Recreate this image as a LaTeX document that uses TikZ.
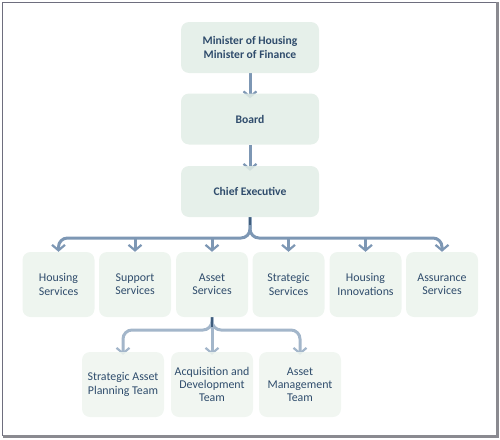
\documentclass[tikz,border=0pt]{standalone}
\usepackage{fontspec}
\setmainfont{Carlito}
\usetikzlibrary{arrows.meta,backgrounds}
\definecolor{txt}{HTML}{2F4C6C}
\definecolor{fillA}{HTML}{E2EDE6}
\definecolor{fillB}{HTML}{EEF5EF}
\definecolor{conn}{HTML}{7D97B4}
\definecolor{connL}{HTML}{A3B6CA}
\definecolor{trunk}{HTML}{3E5C7C}
\definecolor{frameC}{HTML}{6E6E7E}
\definecolor{frameD}{HTML}{8A8A90}
\tikzset{
  box/.style={rounded corners=8pt, inner sep=0pt, align=center, text=txt,
    font=\fontsize{11.9}{13.2}\selectfont},
  topbox/.style={box, fill=fillA, fill opacity=0.85, text opacity=1,
    minimum width=138pt, minimum height=51pt,
    font=\fontsize{11.6}{13.2}\selectfont\bfseries},
  midbox/.style={box, fill=fillB, minimum width=72pt, minimum height=65pt},
  lowbox/.style={box, fill=fillB, fill opacity=0.85, text opacity=1,
    minimum width=82pt, minimum height=65pt},
  chev/.style={-{Straight Barb[length=5.5pt,width=13pt,line width=2.2pt]}},
  conn/.style={draw=conn, line width=3pt, rounded corners=9pt},
  connl/.style={draw=connL, line width=3pt, rounded corners=9pt},
}
\begin{document}
\begin{tikzpicture}[x=1pt,y=-1pt]
\useasboundingbox (0,0) rectangle (500,439);
% frame
\draw[frameC, line width=1.2pt] (497,2.5) -- (2.5,2.5) -- (2.5,436);
\draw[frameD, line width=2.8pt] (2.5,436.6) -- (497.6,436.6) -- (497.6,2);
% nodes
\node[topbox] (min) at (250,47.5) {Minister of Housing\\Minister of Finance};
\node[topbox] (board) at (250,119) {Board};
\node[topbox] (ce) at (250,191.5) {Chief Executive};
\node[midbox] (hs) at (58.5,284.5) {Housing\\Services};
\node[midbox] (ss) at (135,284.5) {Support\\Services};
\node[midbox] (as) at (212,284.5) {Asset\\Services};
\node[midbox] (sts) at (288.5,284.5) {Strategic\\Services};
\node[midbox] (hi) at (365.5,284.5) {Housing\\Innovations};
\node[midbox] (asr) at (442,284.5) {Assurance\\Services};
\node[lowbox] (sap) at (123,384.5) {Strategic Asset\\Planning Team};
\node[lowbox] (acq) at (212,384.5) {Acquisition and\\Development\\Team};
\node[lowbox] (amt) at (300,384.5) {Asset\\Management\\Team};
\coordinate (bus1) at (250,238);
\coordinate (bus2) at (212,330);
\begin{scope}[on background layer]
% top chain
\draw[conn, chev] (min.south) -- ([yshift=-5pt]board.north);
\draw[conn, chev] (board.south) -- ([yshift=-5pt]ce.north);
% level 2
\draw[conn, chev] (ce.south) -- (bus1) -| (hs.north);
\draw[conn, chev] (ce.south) -- (bus1) -| (asr.north);
\draw[conn, chev] (ss.north |- bus1) -- (ss.north);
\draw[conn, chev] (as.north |- bus1) -- (as.north);
\draw[conn, chev] (sts.north |- bus1) -- (sts.north);
\draw[conn, chev] (hi.north |- bus1) -- (hi.north);
\draw[trunk, line width=2pt] (ce.south) -- ([yshift=-8pt]ce.south);
% level 3
\draw[connl, chev] (as.south) -- (bus2) -| ([yshift=-3pt]sap.north);
\draw[connl, chev] (as.south) -- (bus2) -| ([yshift=-3pt]amt.north);
\draw[connl, chev] (as.south) -- ([yshift=-3pt]acq.north);
\draw[trunk, line width=2.5pt] (as.south) -- ([yshift=-10pt]as.south);
\end{scope}
\end{tikzpicture}
\end{document}
